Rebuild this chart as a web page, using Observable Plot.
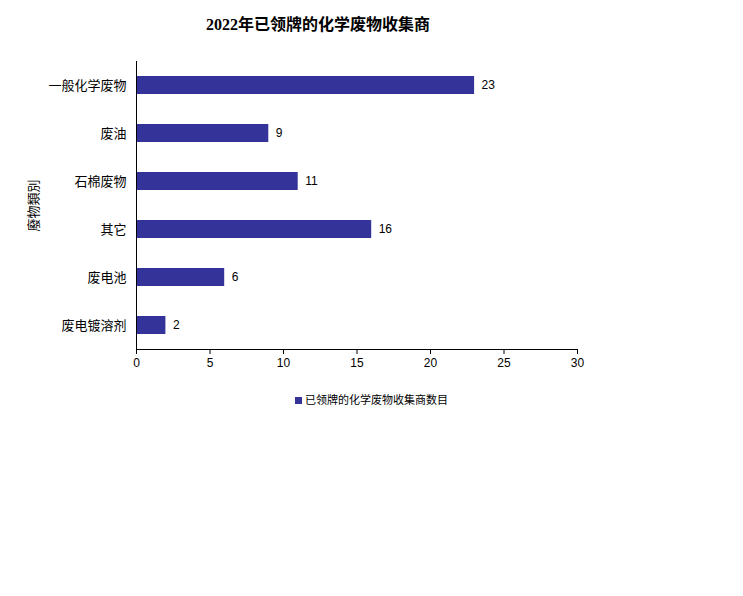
<!DOCTYPE html>
<html>
<head>
<meta charset="utf-8">
<script src="https://cdn.jsdelivr.net/npm/d3@7"></script>
<script src="https://cdn.jsdelivr.net/npm/@observablehq/plot@0.6"></script>
<style>
  body { margin: 0; background: #fff; font-family: "Liberation Sans", "Noto Sans CJK SC", sans-serif; }
  #title { height: 50px; width: 636px; text-align: center; font-family: "Liberation Serif", "Noto Sans CJK SC", serif; font-weight: bold; font-size: 16px; line-height: 50px; color: #000; }
  #legend { width: 743px; text-align: center; font-size: 11px; margin-top: 12px; color: #000; }
  #legend .sw { display: inline-block; width: 7px; height: 7px; background: #333399; margin-right: 3px; vertical-align: 0px; }
</style>
</head>
<body>
<div id="title">2022年已领牌的化学废物收集商</div>
<div id="chart"></div>
<div id="legend"><span class="sw"></span>已领牌的化学废物收集商数目</div>
<script>
const categories = ["一般化学废物", "废油", "石棉废物", "其它", "废电池", "废电镀溶剂"];
const counts = [23, 9, 11, 16, 6, 2];
const xTicks = [0, 5, 10, 15, 20, 25, 30];
const yLabel = "廢物類別";
const barColor = "#333399";

const data = categories.map((c, i) => ({category: c, count: counts[i]}));

const chart = Plot.plot({
  width: 743,
  height: 329,
  marginTop: 11,
  marginBottom: 30,
  marginLeft: 136,
  marginRight: 166,
  style: {fontFamily: "'Liberation Sans', 'Noto Sans CJK SC', sans-serif", fontSize: "12px", color: "#000", background: "#fff"},
  x: {domain: [0, 30]},
  y: {domain: categories, paddingInner: 0.625, paddingOuter: 0.3125},
  marks: [
    Plot.barX(data, {x: "count", y: "category", fill: barColor}),
    Plot.text(data, {x: "count", y: "category", text: d => String(d.count), textAnchor: "start", dx: 7, fontSize: 12, fill: "#000"}),
    Plot.axisX({ticks: xTicks, tickSize: 5, tickPadding: 4, label: null, fontSize: 12}),
    Plot.axisY({tickSize: 0, tickPadding: 10, fontSize: 13, label: yLabel, labelAnchor: "center", labelOffset: 108, labelArrow: "none", fill: "#000"}),
    Plot.frame({anchor: "left", stroke: "#000"}),
    Plot.frame({anchor: "bottom", stroke: "#000"})
  ]
});
document.getElementById("chart").appendChild(chart);
</script>
</body>
</html>
